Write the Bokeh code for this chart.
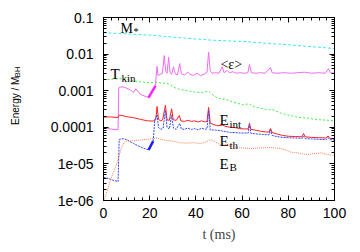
import math
from bokeh.plotting import figure
from bokeh.models import (LogAxis, LinearAxis, FixedTicker, SingleIntervalTicker,
                          Label, Range1d)
from bokeh.embed import file_html
from bokeh.resources import INLINE

# ---------------- data ----------------
t_mstar = [0, 7, 20, 33, 47, 62, 77, 90, 100]
mstar = [0.0385, 0.0365, 0.033, 0.028, 0.024, 0.0218, 0.0185, 0.016, 0.0142]

t_tkin = [0, 4, 8, 13, 20, 22.5, 28, 31, 33, 37, 40, 43, 45.5, 47, 49.5, 53, 57,
          60.5, 63, 64, 66, 70, 72, 73, 77, 81, 85, 88, 92, 96, 100]
tkin = [0.0020, 0.00205, 0.00215, 0.00185, 0.00165, 0.0017, 0.00155, 0.0012,
        0.00108, 0.00098, 0.00091, 0.00088, 0.00097, 0.0008, 0.00062, 0.00058,
        0.00047, 0.00041, 0.00044, 0.0004, 0.00035, 0.00031, 0.0003, 0.00031,
        0.00024, 0.00021, 0.000185, 0.00018, 0.000162, 0.000158, 0.00015]

t_eps = [0, 3, 6.3, 6.6, 7.5, 9, 11.7, 13, 14, 16, 19.5,
         22.5, 22.8, 23.2, 23.6, 24.5, 25.5, 26.3, 26.9, 27.5, 28.2, 28.8, 29.5,
         30.3, 31, 32, 33, 33.7, 35, 36.5, 37.5, 39, 40.5, 42, 43.5, 44.8, 45.5,
         46.2, 47, 48.5, 50, 51.4, 52.2, 53.5, 54.5, 56, 57.5, 59, 61, 62.5, 63.2,
         64, 66, 68, 70, 72.3, 73, 75, 78, 81, 84, 87, 90, 93, 96, 97.4, 98.2, 100]
eps = [1.0e-4, 9.0e-5, 8.5e-5, 0.00119, 0.00127, 0.00125, 0.00105, 0.00089,
       0.00113, 0.00079, 0.00065,
       0.00135, 0.0025, 0.0046, 0.0026, 0.0028, 0.003, 0.0091, 0.0035, 0.003,
       0.0082, 0.0032, 0.0028, 0.0045, 0.0029, 0.0027, 0.0055, 0.0029, 0.0027,
       0.0032, 0.0028, 0.0026, 0.003, 0.0026, 0.0028, 0.0032, 0.0114, 0.0035,
       0.003, 0.0031, 0.003, 0.0045, 0.0031, 0.0036, 0.0031, 0.0033, 0.003,
       0.0031, 0.003, 0.0031, 0.0052, 0.0031, 0.003, 0.0031, 0.003, 0.0043,
       0.0031, 0.003, 0.0031, 0.003, 0.0031, 0.0032, 0.003, 0.0031, 0.003,
       0.004, 0.0031, 0.003]
t_eps_dense = [19.5, 22.5]
eps_dense = [0.00065, 0.00135]

t_eint = [0, 3, 6.3, 6.8, 8, 10, 13, 16, 19, 21.5, 22.6, 23.2, 23.8, 24.8, 25.6,
          26.8, 27.5, 28.5, 29.5, 30.2, 31.5, 32.8, 33.5, 35, 36.5, 38, 39.5, 41,
          42.5, 44, 44.8, 45.5, 46.2, 47.5, 49.5, 51.5, 53, 55, 57, 59, 61, 62.6,
          63.2, 63.8, 66, 68, 70, 71.7, 72.3, 73, 75, 77.5, 80, 83, 86, 86.6,
          87.3, 90, 93, 96.5, 97.2, 98, 100]
eint = [0.00019, 0.000192, 0.000185, 0.000215, 0.00021, 0.000195, 0.000183,
        0.000165, 0.00015, 0.000148, 0.00016, 0.00037, 0.000165, 0.00015,
        0.00016, 0.0004, 0.00016, 0.000155, 0.00032, 0.00016, 0.000155, 0.00021,
        0.00015, 0.000145, 0.000155, 0.000145, 0.00015, 0.00014, 0.00015,
        0.00014, 0.000145, 0.00035, 0.00013, 0.00012, 0.00011, 0.000115,
        0.000105, 0.0001, 0.000098, 0.000092, 0.00009, 0.00009, 0.000128,
        0.000088, 0.000083, 0.000078, 0.000075, 0.000074, 0.000093, 0.000072,
        0.000066, 0.00006, 0.000057, 0.000056, 0.000055, 0.000068, 0.000055,
        0.000053, 0.000052, 0.000051, 0.000058, 0.00005, 0.000048]

t_eth = [0, 2, 4, 6.3, 6.8, 8.7, 10, 13, 16, 19.5]
eth = [4.3e-6, 4.0e-6, 3.6e-6, 3.3e-6, 4.7e-5, 4.9e-5, 4.6e-5, 3.6e-5, 2.9e-5, 2.4e-5]
t_eth_dense = [19.5, 21.5]
eth_dense = [2.4e-5, 4.2e-5]
t_eth_late = [21.5, 22.2, 23.2, 23.8, 24.8, 25.8, 26.8, 27.5, 28.5, 29.5, 30.3,
              31.5, 33, 33.7, 35, 36.5, 38, 39.5, 41, 42.5, 44, 44.8, 45.5, 46.2,
              48.5, 51, 53, 55, 57, 59, 61, 62.6, 63.2, 63.8, 66, 69, 71.7, 72.3,
              73, 75, 77.5, 80, 83, 86, 86.6, 87.3, 90, 93, 96.5, 97.2, 98, 100]
eth_late = [4.2e-5, 0.00016, 0.00022, 0.0001, 8.8e-5, 9.5e-5, 0.00029, 0.0001,
            9e-5, 0.00021, 9.5e-5, 8.8e-5, 0.000128, 9e-5, 8.8e-5, 9.5e-5,
            8.7e-5, 9.2e-5, 8.5e-5, 9.5e-5, 8.8e-5, 9e-5, 0.00029, 8.5e-5,
            8.4e-5, 8e-5, 7.6e-5, 7.2e-5, 7.2e-5, 7e-5, 7e-5, 6.9e-5, 0.000122,
            6.8e-5, 6.6e-5, 6.4e-5, 6.2e-5, 8.5e-5, 6e-5, 5.6e-5, 5.3e-5, 5.2e-5,
            5.1e-5, 5e-5, 5.8e-5, 4.9e-5, 4.8e-5, 4.7e-5, 4.6e-5, 5.2e-5, 4.6e-5,
            4.5e-5]

t_eb = [0.2, 1, 2, 3, 4, 5, 6, 7, 8, 9, 10, 13, 16, 20, 23, 25, 27.5, 30, 33,
        36, 39, 42, 44, 46.5, 48.5, 50.5, 52, 55, 58, 61, 63.6, 66, 69, 72, 76.6,
        79, 81, 84, 88, 91, 94, 97, 100]
eb = [1.0e-6, 1.4e-6, 2.2e-6, 3.5e-6, 5.3e-6, 7.5e-6, 1.1e-5, 1.9e-5, 3.0e-5,
      3.9e-5, 4.2e-5, 4.3e-5, 4.5e-5, 4.8e-5, 5.1e-5, 4.7e-5, 4.3e-5, 4.2e-5,
      3.8e-5, 3.7e-5, 3.8e-5, 3.6e-5, 3.9e-5, 4.6e-5, 3.9e-5, 3.4e-5, 3.5e-5,
      3.1e-5, 2.8e-5, 2.7e-5, 2.6e-5, 2.7e-5, 2.75e-5, 2.8e-5, 2.65e-5, 2.4e-5,
      2.1e-5, 2.0e-5, 1.8e-5, 1.9e-5, 2.0e-5, 1.8e-5, 1.7e-5]

x_ticks = [0, 20, 40, 60, 80, 100]
y_ticks = [1e-6, 1e-5, 1e-4, 1e-3, 1e-2, 1e-1]
y_tick_labels = ["1e-06", "1e-05", "0.0001", "0.001", "0.01", "0.1"]

# ---------------- figure ----------------
p = figure(width=352, height=244, x_range=Range1d(0, 100),
           y_range=Range1d(1e-6, 0.1), y_axis_type="log",
           output_backend="svg", toolbar_location=None,
           min_border_left=103, min_border_right=18,
           min_border_top=17, min_border_bottom=38)
p.grid.visible = False
p.outline_line_color = "black"
p.outline_line_width = 1

y_minor = [m * 10.0 ** e for e in range(-6, -1) for m in range(2, 10)]


def style_axis(ax, labels=True):
    ax.axis_line_color = "black"
    ax.major_tick_in = 5
    ax.major_tick_out = 0
    ax.minor_tick_in = 3
    ax.minor_tick_out = 0
    ax.major_tick_line_color = "black"
    ax.minor_tick_line_color = "black"
    ax.major_label_text_font = "Liberation Sans"
    ax.major_label_text_font_size = "14px"
    ax.major_label_text_color = "black" if labels else None


xa = p.xaxis[0]
xa.ticker = SingleIntervalTicker(interval=20, num_minor_ticks=6)
style_axis(xa)
xa.major_label_standoff = 7
xa.axis_label = "t (ms)"
xa.axis_label_text_font = "Liberation Serif"
xa.axis_label_text_font_size = "14px"
xa.axis_label_text_font_style = "normal"
xa.axis_label_standoff = 6

ya = p.yaxis[0]
ya.ticker = FixedTicker(ticks=y_ticks, minor_ticks=y_minor)
ya.major_label_overrides = {v: s for v, s in zip(y_ticks, y_tick_labels)}
style_axis(ya)
ya.major_label_standoff = 10

top = LinearAxis(ticker=SingleIntervalTicker(interval=20, num_minor_ticks=6))
style_axis(top, labels=False)
p.add_layout(top, "above")
right = LogAxis(ticker=FixedTicker(ticks=y_ticks, minor_ticks=y_minor))
style_axis(right, labels=False)
p.add_layout(right, "right")

# ---------------- series ----------------
p.line(t_mstar, mstar, line_color="#3fe6f2", line_width=1, line_dash="3 2")
p.line(t_tkin, tkin, line_color="#44ee44", line_width=1, line_dash="2 2")
p.line(t_eps, eps, line_color="#f06cf0", line_width=1)
p.line(t_eps_dense, eps_dense, line_color="#ff22ff", line_width=2.5)
p.line(t_eint, eint, line_color="#ff2020", line_width=1)
p.line(t_eth, eth, line_color="#3344ff", line_width=1, line_dash="2 1")
p.line(t_eth_dense, eth_dense, line_color="#1a1aff", line_width=2.5)
p.line(t_eth_late, eth_late, line_color="#3344ff", line_width=1, line_dash="2 1")
p.line(t_eb, eb, line_color="#ff7f50", line_width=1, line_dash="1 1")

# ---------------- labels ----------------
SERIF = "Liberation Serif"


def lab(x, y, text, size, **kw):
    p.add_layout(Label(x=x, y=y, text=text, text_font=SERIF,
                       text_font_size=size, text_color="black",
                       text_baseline="alphabetic", **kw))


lab(7.4, 0.0497, "M", "14px")
lab(7.4, 0.0497, "*", "10px", x_offset=13, y_offset=-3)
lab(3.0, 0.00292, "T", "15px")
lab(3.0, 0.00292, "kin", "11px", x_offset=11, y_offset=-4)
lab(50.6, 0.00506, "<\u03b5>", "14px")
lab(50.2, 0.00016, "E", "15px")
lab(50.2, 0.00016, "int", "11px", x_offset=10, y_offset=-4)
lab(50.2, 4.11e-5, "E", "15px")
lab(50.2, 4.11e-5, "th", "11px", x_offset=10, y_offset=-4)
lab(50.2, 1.01e-5, "E", "15px")
lab(50.2, 1.01e-5, "B", "11px", x_offset=10, y_offset=-3)

# y-axis title with subscript, placed in the left side panel (not clipped)
p.add_layout(Label(x=-38.3, y=1.156e-4, text="Energy / M",
                   text_font="Liberation Sans", text_font_size="10px",
                   angle=math.pi / 2, text_align="left",
                   text_baseline="alphabetic", text_color="black"), "left")
p.add_layout(Label(x=-37.2, y=0.00229, text="BH",
                   text_font="Liberation Sans", text_font_size="8px",
                   angle=math.pi / 2, text_align="left",
                   text_baseline="alphabetic", text_color="black"), "left")

open("out.html", "w").write(file_html(p, INLINE))
